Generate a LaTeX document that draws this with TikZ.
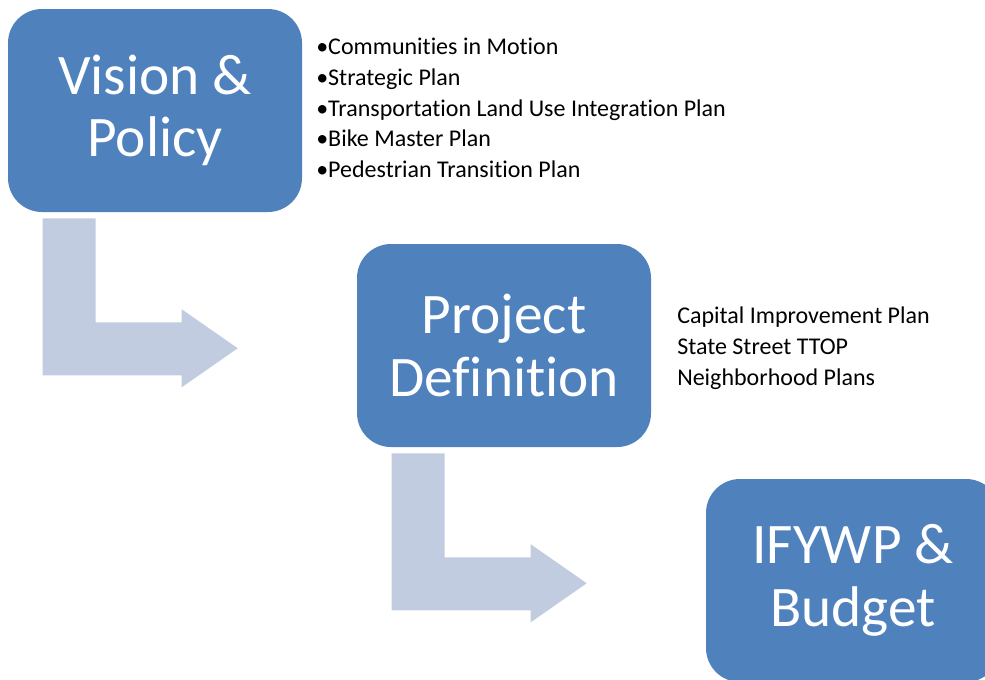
\documentclass[tikz,border=0pt]{standalone}
\usepackage{fontspec}
\setmainfont[Ligatures=NoCommon]{Carlito}
\usetikzlibrary{positioning}
\definecolor{boxblue}{RGB}{79,129,189}
\definecolor{arrowblue}{RGB}{193,204,225}
\tikzset{my box/.style={fill=boxblue, text=white, rounded corners=25.5pt, minimum width=220.5pt, minimum height=152.25pt, inner sep=0pt, align=center, font=\fontsize{43}{47}\selectfont},
my list/.style={anchor=north west, inner sep=0pt, align=left, font=\fontsize{18}{23}\selectfont},}
\newcommand{\bentarrow}[1]{\fill [arrowblue] ([shift={(35,6)}]#1.south west) -- ([shift={(88,6)}]#1.south west) -- ([shift={(88,110)}]#1.south west) -- ([shift={(174,110)}]#1.south west) -- ([shift={(174,97)}]#1.south west) -- ([shift={(230,136)}]#1.south west) -- ([shift={(174,175)}]#1.south west) -- ([shift={(174,163)}]#1.south west) -- ([shift={(35,163)}]#1.south west) -- cycle;}

\begin{document}
\begin{tikzpicture}[x=0.75pt,y=-0.75pt]
\useasboundingbox (0,0) rectangle (985,679);
\node [my box] (vision) at (155,110.5) {Vision \&\\Policy};
\node [my box] (project) at (504,345.5) {Project\\Definition};
\node [my box] (budget) at (853,580.5) {IFYWP \&\\Budget};
\bentarrow{vision}
\bentarrow{project}
\node [my list] (plans) at (316,38) {•Communities in Motion\\•Strategic Plan\\•Transportation Land Use Integration Plan\\•Bike Master Plan\\•Pedestrian Transition Plan};
\node [my list] (projects) at (677,307) {Capital Improvement Plan\\State Street TTOP\\Neighborhood Plans};
\end{tikzpicture}
\end{document}
